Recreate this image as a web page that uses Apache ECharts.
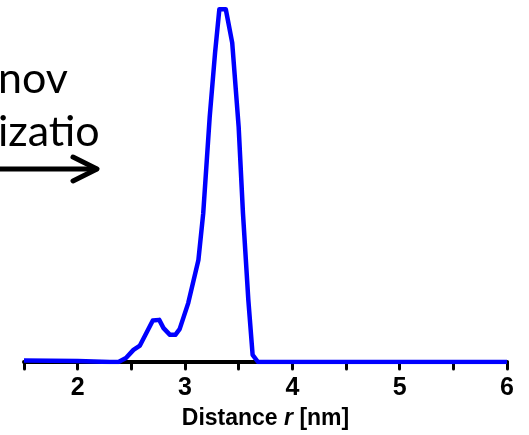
<!DOCTYPE html>
<html>
<head>
<meta charset="utf-8">
<script src="https://cdn.jsdelivr.net/npm/echarts@6/dist/echarts.min.js"></script>
<style>
html,body{margin:0;padding:0;background:#fff;}
#main{width:529px;height:435px;}
</style>
</head>
<body>
<div id="main"></div>
<script>
// distance r [nm] and distribution P(r) (arbitrary units, peak ~ 100)
var distance = [1.5, 2.0, 2.3, 2.38, 2.45, 2.52, 2.58, 2.64, 2.70, 2.76, 2.80, 2.86, 2.91, 2.95, 3.03, 3.125, 3.17, 3.23, 3.28, 3.32, 3.38, 3.44, 3.50, 3.54, 3.59, 3.63, 3.68, 6.0];
var prob = [0.4, 0.3, 0, 0, 1.1, 3.4, 4.6, 8.1, 11.6, 11.8, 9.5, 7.6, 7.6, 9.2, 16.5, 28.6, 41.7, 68.6, 86.6, 98.8, 98.8, 89.4, 65.8, 41.7, 17.4, 2, 0, 0];
var xTicks = [2, 3, 4, 5, 6];

var seriesData = [];
for (var i = 0; i < distance.length; i++) {
    seriesData.push([distance[i], prob[i]]);
}

var axisFont = '"Liberation Sans", Arial';
var myChart = echarts.init(document.getElementById('main'));
var option = {
    animation: false,
    grid: {left: 24, right: 22, top: 5, bottom: 73},
    xAxis: {
        type: 'value',
        min: 1.5,
        max: 6,
        interval: 0.5,
        splitLine: {show: false},
        axisLine: {lineStyle: {color: '#000', width: 4, cap: 'round'}},
        axisTick: {length: 7, lineStyle: {color: '#000', width: 3, cap: 'round'}},
        axisLabel: {
            color: '#000',
            fontFamily: axisFont,
            fontWeight: 'bold',
            fontSize: 25,
            margin: 14,
            formatter: function (v) {
                return xTicks.indexOf(v) >= 0 ? String(v) : '';
            }
        },
        name: '{b|Distance }{i|r}{b| [nm]}',
        nameLocation: 'middle',
        nameGap: 45,
        nameTextStyle: {
            rich: {
                b: {fontFamily: axisFont, fontWeight: 'bold', fontSize: 23, color: '#000'},
                i: {fontFamily: axisFont, fontWeight: 'bold', fontStyle: 'italic', fontSize: 23, color: '#000'}
            }
        }
    },
    yAxis: {
        type: 'value',
        min: 0,
        max: 100,
        show: false
    },
    series: [{
        type: 'line',
        data: seriesData,
        symbol: 'none',
        smooth: false,
        z: 5,
        lineStyle: {color: '#0000ff', width: 4.5, join: 'round'}
    }],
    graphic: [
        {type: 'text', left: -2, top: 58, style: {text: 'nov', font: '43px Lato', fill: '#000'}},
        {type: 'text', left: -2, top: 111, style: {text: 'izatio', font: '43px Lato', fill: '#000'}},
        {type: 'polyline', shape: {points: [[-5, 169], [96, 169]]}, style: {stroke: '#000', lineWidth: 5, lineCap: 'round'}},
        {type: 'polyline', shape: {points: [[73, 157], [97, 169], [73, 181]]}, style: {stroke: '#000', fill: null, lineWidth: 5, lineCap: 'round', lineJoin: 'round'}}
    ]
};
myChart.setOption(option);
</script>
</body>
</html>
